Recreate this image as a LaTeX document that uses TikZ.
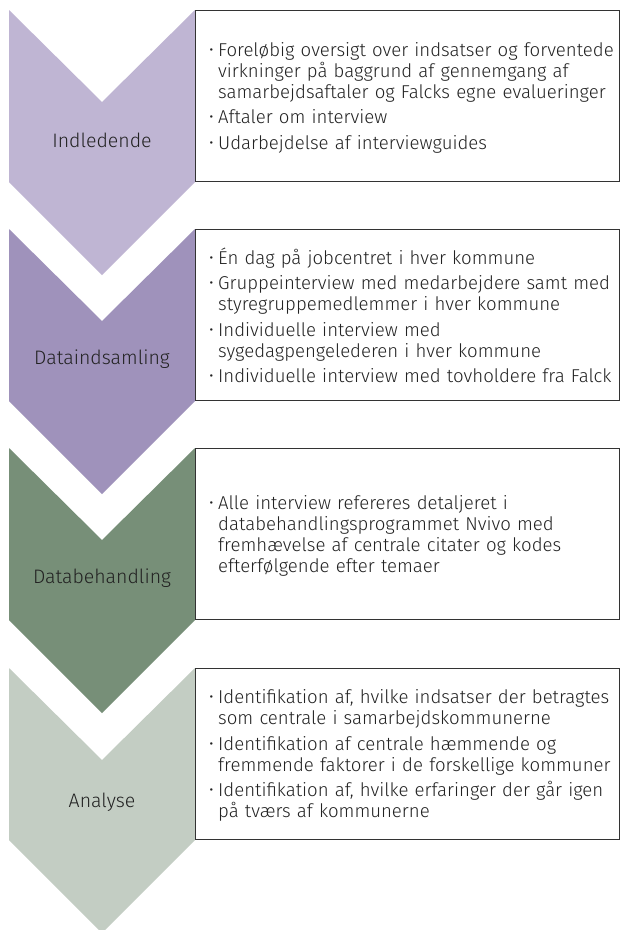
\documentclass[tikz,border=0pt]{standalone}
\usepackage{fontspec}
\IfFontExistsTF{Fira Sans Light}{\setmainfont{Fira Sans Light}}{\setmainfont{Fira Sans}}
\definecolor{cA}{HTML}{BFB5D3}
\definecolor{cB}{HTML}{9F92BB}
\definecolor{cC}{HTML}{778F78}
\definecolor{cD}{HTML}{C3CDC3}
\definecolor{txt}{HTML}{222222}
\definecolor{boxline}{HTML}{333333}
\newcommand{\itemsetup}{\setlength{\parskip}{4.5pt}\hyphenpenalty=10000 \exhyphenpenalty=10000 \relax}
\newcommand{\bitem}[1]{\par\noindent\hangindent=9pt\hangafter=1\makebox[9pt][l]{\raisebox{0.1ex}{\fontsize{16}{16}\selectfont •}}#1\par}
\newcommand{\chevron}[2]{\fill[#1] (9,#2) -- (102,#2+92) -- (195,#2) -- (195,#2+172) -- (102,#2+265) -- (9,#2+172) -- cycle;}
\begin{document}
\begin{tikzpicture}[x=1pt,y=-1pt,
  infobox/.style={draw=boxline, fill=white, line width=0.9pt, minimum width=424pt, minimum height=171pt, anchor=north west, inner sep=0pt},
  phase/.style={text=txt, font=\fontsize{19.5}{21}\selectfont},
  itemtext/.style={anchor=west, text width=420pt, align=left, text=txt, inner sep=0pt, font=\fontsize{18.6}{21}\selectfont}]
\useasboundingbox (0,0) rectangle (620,930);
\fill[white] (0,0) rectangle (620,930);
\chevron{cA}{10}
\chevron{cB}{229}
\chevron{cC}{448}
\chevron{cD}{668}
\node[phase] (p1) at (102,140) {Indledende};
\node[phase] (p2) at (102,359) {Dataindsamling};
\node[phase] (p3) at (102,578) {Databehandling};
\node[phase] (p4) at (102,802) {Analyse};
\node[infobox] (b1) at (195,10) {};
\node[infobox] (b2) at (195,229) {};
\node[infobox] (b3) at (195,448) {};
\node[infobox] (b4) at (195,668) {};
\node[itemtext] (t1) at ([xshift=14pt,yshift=4pt]b1.west) {\itemsetup
\bitem{Foreløbig oversigt over indsatser og forventede\break virkninger på baggrund af gennemgang af\break samarbejdsaftaler og Falcks egne evalueringer}
\bitem{Aftaler om interview}
\bitem{Udarbejdelse af interviewguides}};
\node[itemtext] (t2) at ([xshift=14pt,yshift=4pt]b2.west) {\itemsetup
\bitem{Én dag på jobcentret i hver kommune}
\bitem{Gruppeinterview med medarbejdere samt med\break styregruppemedlemmer i hver kommune}
\bitem{Individuelle interview med\break sygedagpengelederen i hver kommune}
\bitem{Individuelle interview med tovholdere fra Falck}};
\node[itemtext] (t3) at ([xshift=14pt,yshift=4pt]b3.west) {\itemsetup
\bitem{Alle interview refereres detaljeret i\break databehandlingsprogrammet Nvivo med\break fremhævelse af centrale citater og kodes\break efterfølgende efter temaer}};
\node[itemtext] (t4) at ([xshift=14pt,yshift=4pt]b4.west) {\itemsetup
\bitem{Identifikation af, hvilke indsatser der betragtes\break som centrale i samarbejdskommunerne}
\bitem{Identifikation af centrale hæmmende og\break fremmende faktorer i de forskellige kommuner}
\bitem{Identifikation af, hvilke erfaringer der går igen\break på tværs af kommunerne}};
\end{tikzpicture}
\end{document}
